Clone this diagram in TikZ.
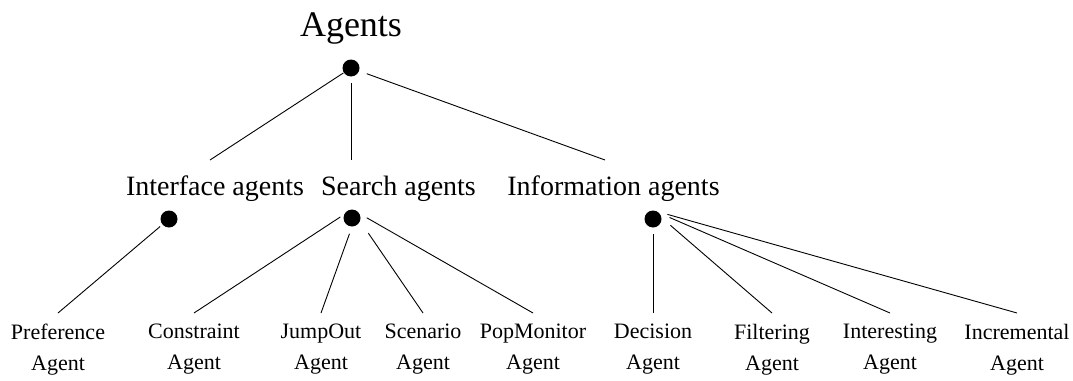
\documentclass[tikz,border=0pt]{standalone}
\usepackage{fontspec}
\setmainfont{Liberation Serif}
\begin{document}
\begin{tikzpicture}[x=1pt,y=-1pt,
  dot/.style={circle,fill=black,draw=none,minimum size=17pt,inner sep=0pt},
  toplbl/.style={anchor=base,inner sep=0pt,font=\fontsize{36}{40}\selectfont},
  grplbl/.style={anchor=base,inner sep=0pt,font=\fontsize{28}{32}\selectfont},
  leaflbl/.style={anchor=north,align=center,inner xsep=0pt,inner ysep=11pt,
    font=\fontsize{22}{31}\selectfont},
  edge/.style={draw=black,line width=0.9pt}]
\useasboundingbox (0,0) rectangle (1073,380);

% root
\node[toplbl] (agents) at (351,36) {Agents};
\node[dot] (root) at (351,68) {};

% second level
\node[grplbl] (iface) at (215,195) {Interface agents};
\node[grplbl] (search) at (398.5,195) {Search agents};
\node[grplbl] (info) at (613.5,195) {Information agents};
\node[dot] (idot) at (169,219) {};
\node[dot] (sdot) at (352,218) {};
\node[dot] (fdot) at (653,219) {};

\coordinate (iend) at (210,160);
\coordinate (send) at (351,160);
\coordinate (fend) at (605,160);

% leaves
\node[leaflbl] (pref) at (58,313) {Preference\\Agent};
\node[leaflbl] (cons) at (194,313) {Constraint\\Agent};
\node[leaflbl] (jump) at (321,313) {JumpOut\\Agent};
\node[leaflbl] (scen) at (423,313) {Scenario\\Agent};
\node[leaflbl] (popm) at (533,313) {PopMonitor\\Agent};
\node[leaflbl] (deci) at (653,313) {Decision\\Agent};
\node[leaflbl] (filt) at (772,313) {Filtering\\Agent};
\node[leaflbl] (intr) at (890,313) {Interesting\\Agent};
\node[leaflbl] (incr) at (1017,313) {Incremental\\Agent};

% root branches
\draw[edge,shorten <=9pt] (root.center) -- (iend);
\draw[edge,shorten <=6.5pt] (root) -- (send);
\draw[edge,shorten <=8pt] (root) -- (fend);

% interface branch
\draw[edge,shorten <=3pt] (idot) -- (pref.north);

% search branches
\draw[edge,shorten <=14pt] (sdot.north) -- (cons.north);
\draw[edge,shorten <=7.5pt] (sdot.south) -- (jump.north);
\draw[edge,shorten <=29pt] (sdot.north) -- (scen.north);
\draw[edge,shorten <=17pt] (sdot.north) -- (popm.north);

% information branches
\draw[edge,shorten <=6.5pt] (fdot.south) -- (deci.north);
\draw[edge,shorten <=23pt] (fdot.north) -- (filt.north);
\draw[edge,shorten <=18pt] (fdot.north) -- (intr.north);
\draw[edge,shorten <=15pt] (fdot.north) -- (incr.north);
\end{tikzpicture}
\end{document}
